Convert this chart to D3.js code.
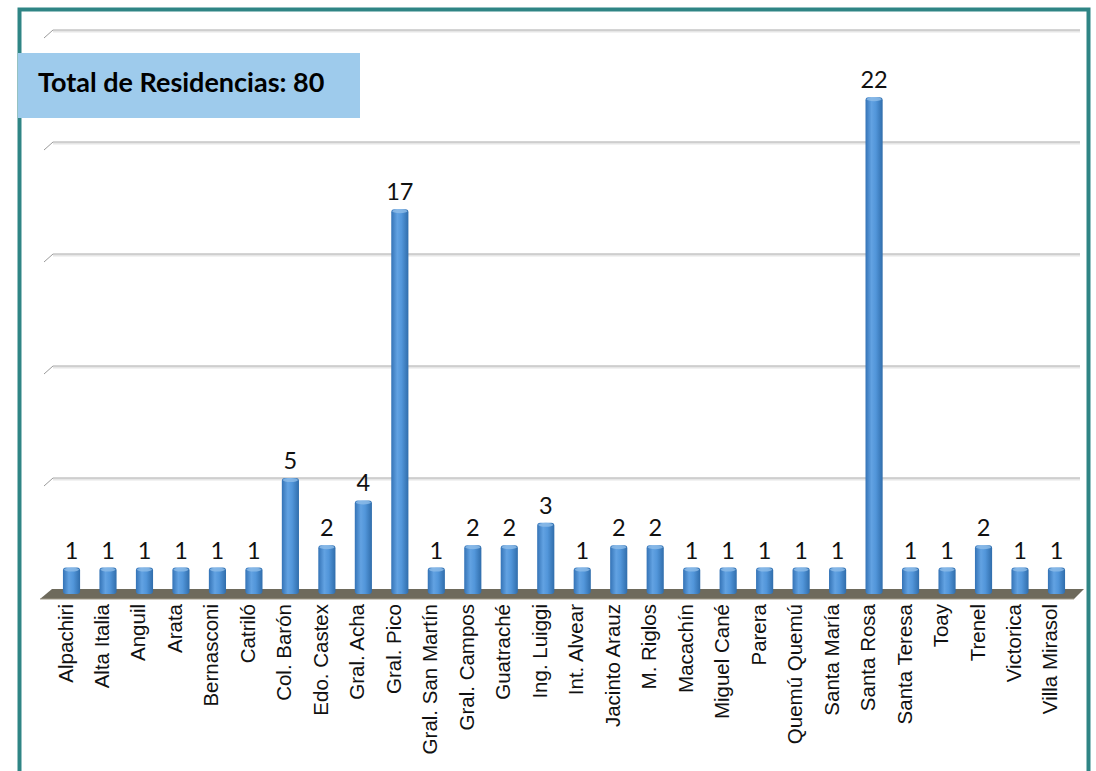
<!DOCTYPE html>
<html><head><meta charset="utf-8">
<script src="https://cdn.jsdelivr.net/npm/d3@7"></script>
<style>body{margin:0;background:#fff;}svg{display:block;}</style>
</head><body>
<script>
const categories = ["Alpachiri","Alta Italia","Anguil","Arata","Bernasconi","Catriló","Col. Barón","Edo. Castex","Gral. Acha","Gral. Pico","Gral. San Martín","Gral. Campos","Guatraché","Ing. Luiggi","Int. Alvear","Jacinto Arauz","M. Riglos","Macachín","Miguel Cané","Parera","Quemú Quemú","Santa María","Santa Rosa","Santa Teresa","Toay","Trenel","Victorica","Villa Mirasol"];
const values = [1,1,1,1,1,1,5,2,4,17,1,2,2,3,1,2,2,1,1,1,1,1,22,1,1,2,1,1];
const yTicks = [0,5,10,15,20,25];
const title = "Total de Residencias: 80";

const W = 1096, H = 771;
const svg = d3.select("body").append("svg").attr("width", W).attr("height", H);
const defs = svg.append("defs");
const g1 = defs.append("linearGradient").attr("id","barg").attr("x1","0").attr("x2","1");
g1.append("stop").attr("offset","0").attr("stop-color","#3473b6");
g1.append("stop").attr("offset","0.35").attr("stop-color","#62a2e2");
g1.append("stop").attr("offset","0.6").attr("stop-color","#5296da");
g1.append("stop").attr("offset","1").attr("stop-color","#306dab");

// border
svg.append("rect").attr("x",19.5).attr("y",9.5).attr("width",1069).attr("height",780)
  .attr("fill","none").attr("stroke","#2f8585").attr("stroke-width",4);

const x = d3.scaleBand().domain(categories).range([52, 1076]).paddingInner(0.53).paddingOuter(0.3);
const y = d3.scaleLinear().domain([0,25]).range([590, 30]);

// gridlines
const grid = svg.append("g");
yTicks.slice(1).forEach(t => {
  const yy = y(t);
  grid.append("line").attr("x1",53).attr("x2",1080).attr("y1",yy+1.5).attr("y2",yy+1.5).attr("stroke","#e6e6e6").attr("stroke-width",2);
  grid.append("line").attr("x1",53).attr("x2",1080).attr("y1",yy).attr("y2",yy).attr("stroke","#a9a9a9").attr("stroke-width",1);
  grid.append("line").attr("x1",44).attr("x2",53).attr("y1",yy+8).attr("y2",yy).attr("stroke","#9a9a9a").attr("stroke-width",1);
});

// floor
svg.append("path").attr("d", `M40,599 L52,589 L1084,589 L1074,599 Z`).attr("fill","#6e6a5c");
svg.append("path").attr("d", `M40,599 L1074,599`).attr("stroke","#a09a88").attr("stroke-width",1);

// bars
const bars = svg.append("g");
categories.forEach((c,i) => {
  const v = values[i];
  const bx = x(c), bw = x.bandwidth();
  const top = y(v), base = y(0) + 4;
  bars.append("rect").attr("x",bx).attr("y",top).attr("width",bw).attr("height",base-top)
    .attr("rx",3).attr("ry",3).attr("fill","url(#barg)");
  bars.append("ellipse").attr("cx",bx+bw/2).attr("cy",top+2).attr("rx",bw/2-1).attr("ry",2)
    .attr("fill","#8fbde9").attr("opacity",0.8);
  svg.append("text").attr("x",bx+bw/2).attr("y",top-9).attr("text-anchor","middle")
    .attr("font-family","Lato, 'Open Sans', sans-serif").attr("font-size",23.5).attr("fill","#111").text(v);
});

// category labels
categories.forEach(c => {
  const cx = x(c) + x.bandwidth()/2;
  svg.append("text").attr("transform",`translate(${cx+1},604) rotate(-90)`)
    .attr("text-anchor","end").attr("font-family","'Liberation Sans', Arial, sans-serif")
    .attr("font-size",20.5).attr("fill","#111").text(c);
});

// title box
svg.append("rect").attr("x",18).attr("y",53).attr("width",342).attr("height",65).attr("fill","#9ecbec");
svg.append("text").attr("x",38).attr("y",92).attr("font-family","Lato, 'Open Sans', sans-serif")
  .attr("font-weight","bold").attr("font-size",27).attr("fill","#000").text(title);
</script>
</body></html>
